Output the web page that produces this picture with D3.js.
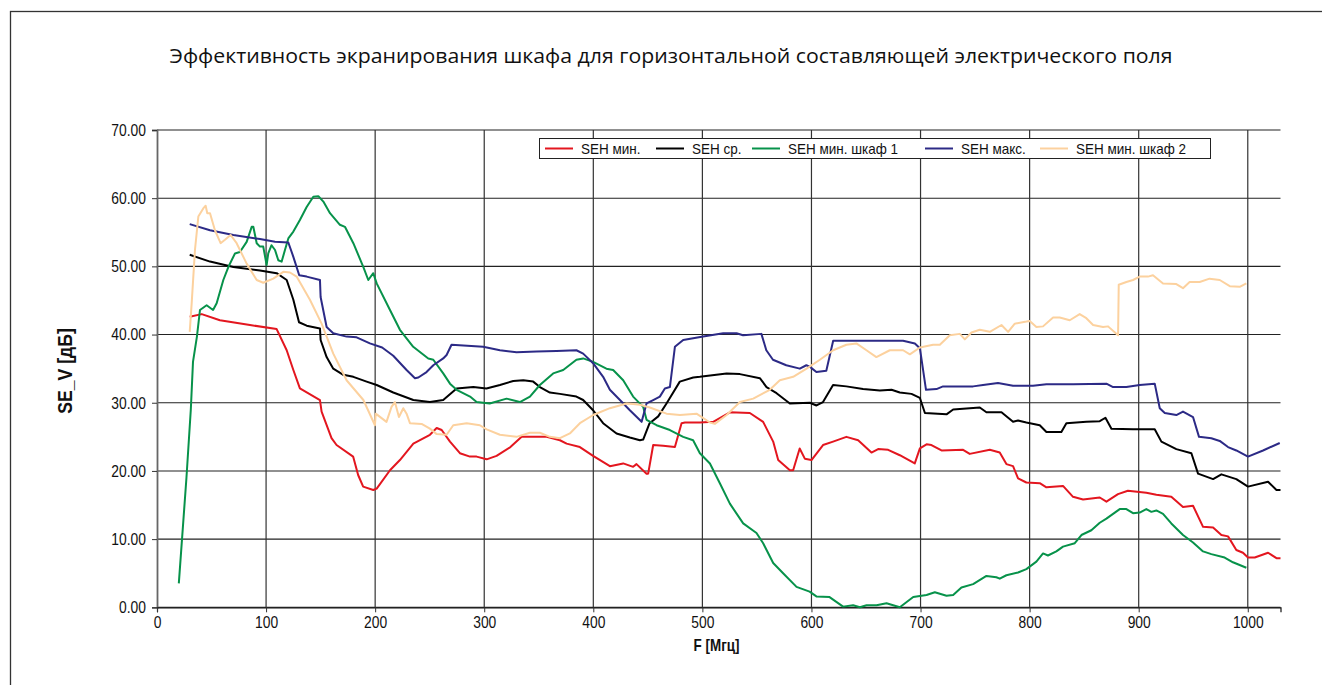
<!DOCTYPE html>
<html>
<head>
<meta charset="utf-8">
<script src="https://cdn.jsdelivr.net/npm/d3@7/dist/d3.min.js"></script>
<style>
  html, body { margin: 0; padding: 0; background: #fff; }
  svg { display: block; }
  .tick text { font-family: "Liberation Sans", "Arial", sans-serif; }
</style>
</head>
<body>
<svg id="chart" width="1322" height="685"></svg>
<script>
// Shielding effectiveness, horizontal E-field component: [frequency MHz, SE dB]
const seMin = [[30,42.6],[41,43],[57.7,42.1],[85.2,41.4],[109.7,40.8],[118.9,37.7],[125,34.8],[131,32.1],[149.4,30.4],[150.9,28.7],[160,24.8],[164.6,23.8],[179.8,22.1],[184.4,19.4],[189,17.7],[198.3,17.2],[201.4,17.4],[213.6,20.1],[222.7,21.6],[235,24],[250.2,25.3],[256.4,26.3],[261,26],[268.6,24.3],[277.7,22.6],[286.9,22.1],[293,22.1],[302.2,21.7],[311.3,22.2],[324,23.5],[334.3,25],[348,25],[357.2,25],[369.4,24.5],[375.5,24],[387.7,23.5],[399.8,22.2],[415.2,20.7],[427.4,21.1],[436.5,20.6],[439.6,21],[448.8,19.6],[450.3,19.6],[454.9,23.8],[464,23.7],[474.8,23.5],[480.9,27],[484,27.1],[497.7,27.1],[509.9,27.2],[525.2,28.6],[543.5,28.5],[555.7,27.2],[564.9,24.3],[569.5,21.6],[580.2,20.1],[583.2,20.1],[589.2,23.3],[593.9,21.8],[600,21.6],[610.6,23.8],[619.8,24.3],[632,25],[642.8,24.5],[655,22.7],[661.1,23.2],[670.3,23.1],[681,22.3],[694.7,21.1],[699.4,23.3],[705.5,23.9],[710,23.8],[719.2,23],[739,23.1],[745.1,22.5],[763.5,23.1],[772.6,22.7],[778.7,21],[784.8,20.7],[789.4,18.9],[797,18.3],[809.3,18.2],[815.4,17.6],[830.6,17.8],[839.8,16.2],[849,15.8],[864.3,16.1],[870.4,15.5],[881,16.6],[890.1,17.1],[907,16.8],[916.2,16.5],[929.9,16.2],[940.6,14.7],[949.8,14.9],[959,11.8],[968.2,11.7],[975.8,10.6],[981.9,10.4],[989.5,8.4],[995.6,8],[1000.2,7.3],[1006.4,7.3],[1018.6,8],[1026.3,7.2],[1030,7.2]];

const seAvg = [[30,51.7],[48.6,50.7],[70,49.9],[94.4,49.4],[109.7,49],[118.9,48],[125,45.1],[130.2,41.8],[137.2,41.3],[149.4,40.9],[150,39.2],[155.5,36.7],[161.6,35],[170.8,34.1],[180,33.8],[192.2,33.1],[201.4,32.6],[216.6,31.5],[235,30.4],[250.2,30.1],[262.4,30.4],[274.7,32.1],[290,32.3],[302,32.1],[314.4,32.6],[326.6,33.2],[335.8,33.3],[344.9,33.1],[351,32.3],[360.2,31.5],[369.4,31.3],[384.5,30.9],[390.7,30.4],[399.8,28.9],[409,27],[421.3,25.5],[433.5,24.9],[442.7,24.5],[445.7,24.6],[451.6,27],[459.5,28],[467.1,29.9],[479.3,33.1],[491.6,33.7],[497.7,33.8],[522.2,34.3],[534.4,34.2],[552.7,33.6],[558.8,32.3],[568,31.4],[580.2,29.9],[598.5,30],[604.6,29.6],[610.6,30.1],[619.8,32.6],[632,32.4],[647.3,32],[662.7,31.8],[673.4,31.9],[681,31.5],[691.7,31.3],[699.4,30.7],[704,28.5],[723.8,28.3],[729.9,29],[754.3,29.3],[760.4,28.6],[774.2,28.6],[784.8,27.2],[789.4,27.4],[797,27.1],[809.3,26.7],[815.4,25.7],[829.1,25.7],[833.7,27],[852,27.2],[864.3,27.3],[869.5,27.8],[875,26.2],[894.8,26.1],[914.7,26.1],[920.8,24.3],[934.5,23.2],[948.3,22.6],[954.4,19.6],[968.2,18.8],[975.8,19.5],[989.5,18.8],[1000.2,17.7],[1018.6,18.4],[1026.3,17.2],[1030,17.2]];

const seMinCab1 = [[20,3.5],[27,19],[31,29],[33,36],[36.6,39.7],[39.4,43.6],[45.5,44.3],[51.4,43.6],[54.7,44.6],[60.8,48],[65.4,49.9],[71.5,51.9],[76,52.1],[82.2,53.6],[86.8,55.8],[88.3,55.8],[91.4,53.4],[94.4,52.9],[97.4,52.9],[100.5,50.2],[102,51.9],[105,53.1],[108.2,52.4],[111.2,50.9],[114.3,50.7],[117.3,52.4],[120.4,54.1],[125,55.1],[131,56.8],[137.2,58.7],[143.3,60.2],[147.9,60.3],[152.5,59.5],[158.6,57.8],[167.7,56.1],[172.3,55.8],[180,53.4],[189.2,49.9],[193.7,48],[198.3,49],[201.4,47.5],[213.6,43.6],[222.7,40.7],[234.9,38.2],[248.7,36.5],[253.3,36.3],[262.4,34.3],[268.6,32.8],[274.7,31.9],[287,30.9],[293,30.1],[305,29.9],[320.5,30.6],[332.7,30.1],[341.9,30.9],[351,32.6],[363.2,34.3],[372.4,34.8],[384.5,36.3],[390.7,36.5],[399.8,36],[412,35],[418.2,34.8],[427.4,33.3],[436.5,30.9],[445.7,29.4],[448.8,27.5],[458,26.7],[470.2,26],[482.4,25],[491.5,24.5],[497.7,22.6],[506.9,21.1],[516,18.2],[525.2,15.2],[537.4,12.3],[549.6,10.9],[555.7,9.4],[564.9,6.5],[574,5],[586.3,3],[598.3,2.3],[604.5,1.6],[616.6,1.5],[629,0.1],[638.2,0.3],[644.4,0],[650.5,0.3],[659.7,0.3],[668.8,0.6],[681,0],[693.3,1.5],[705.5,1.8],[713.1,2.2],[723.8,1.7],[729.9,1.8],[737.5,2.9],[748.2,3.4],[760.4,4.6],[769.5,4.4],[772.6,4.2],[778.7,4.7],[789.4,5.1],[797,5.6],[806.2,6.7],[812.3,7.9],[816.8,7.6],[824.5,8.2],[830.6,8.9],[841.4,9.4],[847.5,10.6],[856.6,11.3],[864.3,12.4],[870.4,13],[882.6,14.4],[888.7,14.4],[894.8,13.8],[900.9,13.9],[907,14.4],[911.6,14],[916.2,14.2],[922.3,13.7],[929.9,12.3],[940.6,10.6],[949.8,9.5],[959,8.2],[966.6,7.8],[978.8,7.3],[986.4,6.6],[998.7,5.8]];

const seMax = [[30,56.2],[48.6,55.3],[70,54.6],[94.4,54],[108.2,53.6],[120.4,53.5],[125,51.4],[130.4,48.7],[137.2,48.5],[149.4,48],[150,45.5],[155.5,41.1],[161.6,40.2],[173.8,39.7],[183,39.6],[195.2,38.7],[206.4,38.1],[216.6,36.9],[228.8,34.8],[236.5,33.6],[239.6,33.7],[247.1,34.5],[253.3,35.5],[262.4,36.5],[265.5,37],[270,38.5],[299,38.2],[314.4,37.7],[329.6,37.4],[348,37.5],[366.3,37.6],[384.5,37.7],[390.7,37.2],[399.8,35.8],[409,33.8],[415.2,31.9],[424.4,30.4],[433.5,28.9],[444.3,27.2],[448.8,29.9],[454.9,30.4],[461,30.9],[465.6,32.1],[470.2,32.3],[474.8,38.2],[482.4,39.2],[500.7,39.7],[519.1,40.2],[531.3,40.2],[537.3,39.9],[554.1,40.1],[558.6,37.7],[564.7,36.3],[576.9,35.5],[589.3,35],[595.3,35.5],[598.4,35.3],[604.5,34.5],[613.6,34.7],[619.9,39.1],[638.2,39.1],[665.7,39.1],[684,39.1],[694.8,38.7],[699.4,38],[705,31.9],[714.6,32],[720.6,32.4],[748.2,32.4],[757.3,32.6],[771,32.9],[784.8,32.5],[803.1,32.5],[815.4,32.7],[839.8,32.7],[870.4,32.8],[876.5,32.3],[888.7,32.3],[900.9,32.6],[914.7,32.8],[919.3,29.2],[923.9,28.5],[934.5,28.2],[940.6,28.7],[949.8,27.9],[955.3,25],[966.6,24.8],[974.3,24.4],[981.9,23.5],[989.5,23],[1000.2,22.1],[1014,23],[1029.3,24.1]];

const seMinCab2 = [[30,40.4],[31.8,44.6],[34.8,52.4],[37.9,57.3],[42.4,58.5],[44.6,58.9],[46.1,57.8],[48.6,57.8],[53.1,55.3],[58.3,53.4],[62.3,53.9],[67.5,54.6],[73,53.4],[82.2,50.4],[91.4,48],[97.4,47.6],[106.6,48.2],[115.8,49.2],[121.9,49.1],[128,48.5],[140.2,45.1],[150.9,41.6],[161.6,37.2],[173.8,33.3],[189.2,30.4],[199.8,26.7],[200.5,28.4],[210.4,27.2],[215,29.4],[218.1,30.1],[221.8,27.9],[225.8,29.2],[228.8,28.4],[231.9,27],[242.6,26.9],[250.2,26.2],[256.4,25.4],[265.5,25.3],[271.6,26.7],[283.9,27],[296,26.7],[302.2,26.1],[314.4,25.3],[329.6,25],[341.9,25.6],[351,25.6],[360.2,25],[369.4,24.8],[378.5,25.5],[387.7,27],[399.9,28.2],[415.2,29.2],[430.5,29.9],[436.5,29.8],[442.7,29.7],[451.8,29.3],[467.1,28.4],[479.4,28.2],[494.6,28.4],[506.9,27.1],[511.4,26.9],[522.2,28.2],[534.4,30.1],[546.6,30.6],[561.8,31.9],[571,33.3],[583.2,33.8],[595.5,35],[607.7,36.3],[619.9,37.7],[632,38.5],[641.2,38.7],[650.4,37.7],[659.5,36.7],[671.8,37.7],[684,37.7],[690.2,37.1],[699.4,38.1],[711.5,38.5],[717.7,38.5],[726.8,39.9],[736,40.1],[740.6,39.3],[746.7,40.3],[754.3,40.7],[763.5,40.4],[774.2,41.4],[780.3,40.4],[786.4,41.6],[797.1,41.9],[800.1,42],[806.2,41.1],[812.3,41.2],[821.5,42.5],[827.6,42.5],[836.8,42.1],[845.9,43],[852,42.4],[858.2,41.4],[867.3,41.1],[871.9,41.2],[881.1,39.9],[881.7,47.3],[888.7,47.7],[894.8,48],[900.9,48.5],[908.5,48.5],[913.1,48.7],[922.3,47.5],[934.5,47.4],[940.6,46.8],[946.7,47.7],[955.9,47.7],[965,48.2],[974.3,48],[983.5,47.1],[992.6,47],[998.7,47.5]];

const seriesNames = ["SEH мин.", "SEH ср.", "SEH мин. шкаф 1", "SEH макс.", "SEH мин. шкаф 2"];
const seriesColors = ["#e3161f", "#000000", "#07924a", "#2c2a86", "#fcd19e"];
const seriesData = [seMin, seAvg, seMinCab1, seMax, seMinCab2];

const xTicks = [0, 100, 200, 300, 400, 500, 600, 700, 800, 900, 1000];
const yTicks = [0, 10, 20, 30, 40, 50, 60, 70];

const titleText = "Эффективность экранирования шкафа для горизонтальной составляющей электрического поля";
const xLabel = "F [Мгц]";
const yLabel = "SE_V [дБ]";

const svg = d3.select("#chart");
const narrow = 0.84; // horizontal squeeze for the condensed axis lettering

// outer frame
svg.append("rect")
  .attr("x", 10.5).attr("y", 11.5)
  .attr("width", 1330).attr("height", 700)
  .attr("fill", "none").attr("stroke", "#333").attr("stroke-width", 1.3);

const plot = { left: 157, right: 1280.5, top: 130, bottom: 607.3 };

const x = d3.scaleLinear().domain([0, 1030]).range([plot.left, plot.right]);
const y = d3.scaleLinear().domain([0, 70]).range([plot.bottom, plot.top]);

// title
svg.append("text")
  .attr("x", 671).attr("y", 63)
  .attr("text-anchor", "middle")
  .attr("font-family", "'Open Sans', 'Noto Sans', sans-serif")
  .attr("font-size", 20)
  .attr("textLength", 1003)
  .attr("lengthAdjust", "spacingAndGlyphs")
  .attr("fill", "#111")
  .text(titleText);

// horizontal grid
svg.append("g")
  .selectAll("line")
  .data(yTicks)
  .join("line")
  .attr("x1", plot.left).attr("x2", plot.right)
  .attr("y1", d => y(d)).attr("y2", d => y(d))
  .attr("stroke", "#222").attr("stroke-width", 1.1);

// vertical grid
svg.append("g")
  .selectAll("line")
  .data(xTicks.filter(d => d > 0))
  .join("line")
  .attr("x1", d => x(d)).attr("x2", d => x(d))
  .attr("y1", plot.top).attr("y2", plot.bottom)
  .attr("stroke", "#333").attr("stroke-width", 1.2);

// squeeze tick labels horizontally about their anchor point
function condense(sel) {
  sel.each(function () {
    const t = d3.select(this);
    const tx = +t.attr("x") || 0;
    t.attr("x", 0).attr("transform", `translate(${tx},0) scale(${narrow},1)`);
  });
}

// axes
const yAxis = svg.append("g")
  .attr("transform", `translate(${plot.left},0)`)
  .call(d3.axisLeft(y).tickValues(yTicks).tickFormat(d3.format(".2f")).tickSize(5).tickPadding(6));
yAxis.select(".domain").attr("stroke", "#666").attr("stroke-width", 1.8);
yAxis.selectAll(".tick line").attr("stroke", "#333");
yAxis.selectAll(".tick text").attr("font-size", 16.5).attr("fill", "#111").call(condense);

const xAxis = svg.append("g")
  .attr("transform", `translate(0,${plot.bottom})`)
  .call(d3.axisBottom(x).tickValues(xTicks).tickFormat(d3.format("d")).tickSize(5).tickPadding(4));
xAxis.select(".domain").attr("stroke", "#111").attr("stroke-width", 1.2);
xAxis.selectAll(".tick line").attr("stroke", "#333");
xAxis.selectAll(".tick text").attr("font-size", 16.5).attr("fill", "#111").call(condense);

// axis titles
svg.append("text")
  .attr("transform", `translate(${x(513)},651) scale(${narrow},1)`)
  .attr("text-anchor", "middle")
  .attr("font-family", "'Liberation Sans', sans-serif")
  .attr("font-weight", "bold")
  .attr("font-size", 16)
  .attr("fill", "#111")
  .text(xLabel);

svg.append("text")
  .attr("transform", `translate(72,371) rotate(-90) scale(${narrow},1)`)
  .attr("text-anchor", "middle")
  .attr("font-family", "'Liberation Sans', sans-serif")
  .attr("font-weight", "bold")
  .attr("font-size", 21)
  .attr("fill", "#111")
  .text(yLabel);

// data lines
const line = d3.line().x(d => x(d[0])).y(d => y(d[1]));
svg.append("g")
  .selectAll("path")
  .data(seriesData)
  .join("path")
  .attr("d", d => line(d))
  .attr("fill", "none")
  .attr("stroke", (d, i) => seriesColors[i])
  .attr("stroke-width", 2)
  .attr("stroke-linejoin", "round");

// legend
const legend = svg.append("g");
legend.append("rect")
  .attr("x", 539.5).attr("y", 138.5).attr("width", 671).attr("height", 20)
  .attr("fill", "#fff").attr("stroke", "#222").attr("stroke-width", 1);
const legendX = [545, 656, 752, 925, 1040];
const items = legend.selectAll("g.item")
  .data(seriesNames)
  .join("g")
  .attr("class", "item")
  .attr("transform", (d, i) => `translate(${legendX[i]},148.5)`);
items.append("line")
  .attr("x1", 0).attr("x2", 28)
  .attr("stroke", (d, i) => seriesColors[i]).attr("stroke-width", 2);
items.append("text")
  .attr("transform", `translate(36,5) scale(0.9,1)`)
  .attr("font-family", "'Liberation Sans', sans-serif")
  .attr("font-size", 15)
  .attr("fill", "#111")
  .text(d => d);
</script>
</body>
</html>
